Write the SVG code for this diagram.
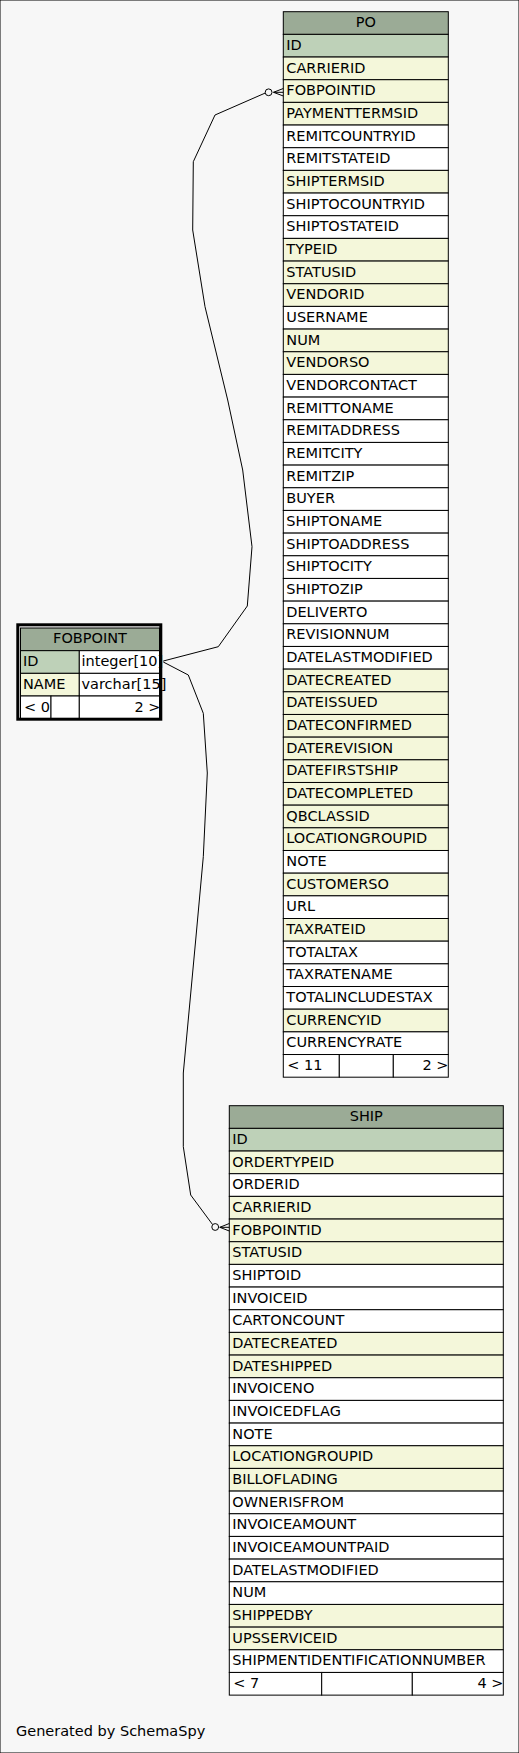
<svg xmlns="http://www.w3.org/2000/svg" width="519" height="1753" viewBox="0 0 519 1753">
<style>
text{font-family:"DejaVu Sans","Liberation Sans",sans-serif;font-size:14.5px;fill:#000}
.c{text-anchor:middle}
.e{text-anchor:end}
rect{stroke:#000;stroke-width:1}
.h{fill:#9bab96}
.pk{fill:#bed1b8}
.fk{fill:#f4f7da}
.w{fill:#ffffff}
.edge{fill:none;stroke:#000;stroke-width:1}
.dot{fill:#f7f7f7;stroke:#000;stroke-width:1}
.frame{fill:none;stroke:#000;stroke-width:3}
</style>
<rect x="0" y="0" width="519" height="1753" fill="#f7f7f7" stroke="none"/>

<g id="PO">
<rect class="h" x="283.3" y="11.70" width="165" height="22.67"/><text class="c" x="365.8" y="27">PO</text>
<rect class="pk" x="283.3" y="34.37" width="165" height="22.67"/><text x="286.3" y="49.87">ID</text>
<rect class="fk" x="283.3" y="57.04" width="165" height="22.67"/><text x="286.3" y="72.54">CARRIERID</text>
<rect class="fk" x="283.3" y="79.71" width="165" height="22.67"/><text x="286.3" y="95.21">FOBPOINTID</text>
<rect class="fk" x="283.3" y="102.38" width="165" height="22.67"/><text x="286.3" y="117.88">PAYMENTTERMSID</text>
<rect class="w" x="283.3" y="125.05" width="165" height="22.67"/><text x="286.3" y="140.55">REMITCOUNTRYID</text>
<rect class="w" x="283.3" y="147.72" width="165" height="22.67"/><text x="286.3" y="163.22">REMITSTATEID</text>
<rect class="fk" x="283.3" y="170.39" width="165" height="22.67"/><text x="286.3" y="185.89">SHIPTERMSID</text>
<rect class="w" x="283.3" y="193.06" width="165" height="22.67"/><text x="286.3" y="208.56">SHIPTOCOUNTRYID</text>
<rect class="w" x="283.3" y="215.73" width="165" height="22.67"/><text x="286.3" y="231.23">SHIPTOSTATEID</text>
<rect class="fk" x="283.3" y="238.40" width="165" height="22.67"/><text x="286.3" y="253.90">TYPEID</text>
<rect class="fk" x="283.3" y="261.07" width="165" height="22.67"/><text x="286.3" y="276.57">STATUSID</text>
<rect class="fk" x="283.3" y="283.74" width="165" height="22.67"/><text x="286.3" y="299.24">VENDORID</text>
<rect class="w" x="283.3" y="306.41" width="165" height="22.67"/><text x="286.3" y="321.91">USERNAME</text>
<rect class="fk" x="283.3" y="329.08" width="165" height="22.67"/><text x="286.3" y="344.58">NUM</text>
<rect class="fk" x="283.3" y="351.75" width="165" height="22.67"/><text x="286.3" y="367.25">VENDORSO</text>
<rect class="w" x="283.3" y="374.42" width="165" height="22.67"/><text x="286.3" y="389.92">VENDORCONTACT</text>
<rect class="w" x="283.3" y="397.09" width="165" height="22.67"/><text x="286.3" y="412.59">REMITTONAME</text>
<rect class="w" x="283.3" y="419.76" width="165" height="22.67"/><text x="286.3" y="435.26">REMITADDRESS</text>
<rect class="w" x="283.3" y="442.43" width="165" height="22.67"/><text x="286.3" y="457.93">REMITCITY</text>
<rect class="w" x="283.3" y="465.10" width="165" height="22.67"/><text x="286.3" y="480.60">REMITZIP</text>
<rect class="w" x="283.3" y="487.77" width="165" height="22.67"/><text x="286.3" y="503.27">BUYER</text>
<rect class="w" x="283.3" y="510.44" width="165" height="22.67"/><text x="286.3" y="525.94">SHIPTONAME</text>
<rect class="w" x="283.3" y="533.11" width="165" height="22.67"/><text x="286.3" y="548.61">SHIPTOADDRESS</text>
<rect class="w" x="283.3" y="555.78" width="165" height="22.67"/><text x="286.3" y="571.28">SHIPTOCITY</text>
<rect class="w" x="283.3" y="578.45" width="165" height="22.67"/><text x="286.3" y="593.95">SHIPTOZIP</text>
<rect class="w" x="283.3" y="601.12" width="165" height="22.67"/><text x="286.3" y="616.62">DELIVERTO</text>
<rect class="w" x="283.3" y="623.79" width="165" height="22.67"/><text x="286.3" y="639.29">REVISIONNUM</text>
<rect class="w" x="283.3" y="646.46" width="165" height="22.67"/><text x="286.3" y="661.96">DATELASTMODIFIED</text>
<rect class="fk" x="283.3" y="669.13" width="165" height="22.67"/><text x="286.3" y="684.63">DATECREATED</text>
<rect class="fk" x="283.3" y="691.80" width="165" height="22.67"/><text x="286.3" y="707.30">DATEISSUED</text>
<rect class="fk" x="283.3" y="714.47" width="165" height="22.67"/><text x="286.3" y="729.97">DATECONFIRMED</text>
<rect class="fk" x="283.3" y="737.14" width="165" height="22.67"/><text x="286.3" y="752.64">DATEREVISION</text>
<rect class="fk" x="283.3" y="759.81" width="165" height="22.67"/><text x="286.3" y="775.31">DATEFIRSTSHIP</text>
<rect class="fk" x="283.3" y="782.48" width="165" height="22.67"/><text x="286.3" y="797.98">DATECOMPLETED</text>
<rect class="fk" x="283.3" y="805.15" width="165" height="22.67"/><text x="286.3" y="820.65">QBCLASSID</text>
<rect class="fk" x="283.3" y="827.82" width="165" height="22.67"/><text x="286.3" y="843.32">LOCATIONGROUPID</text>
<rect class="w" x="283.3" y="850.49" width="165" height="22.67"/><text x="286.3" y="865.99">NOTE</text>
<rect class="fk" x="283.3" y="873.16" width="165" height="22.67"/><text x="286.3" y="888.66">CUSTOMERSO</text>
<rect class="w" x="283.3" y="895.83" width="165" height="22.67"/><text x="286.3" y="911.33">URL</text>
<rect class="fk" x="283.3" y="918.50" width="165" height="22.67"/><text x="286.3" y="934.00">TAXRATEID</text>
<rect class="w" x="283.3" y="941.17" width="165" height="22.67"/><text x="286.3" y="956.67">TOTALTAX</text>
<rect class="w" x="283.3" y="963.84" width="165" height="22.67"/><text x="286.3" y="979.34">TAXRATENAME</text>
<rect class="w" x="283.3" y="986.51" width="165" height="22.67"/><text x="286.3" y="1002.01">TOTALINCLUDESTAX</text>
<rect class="fk" x="283.3" y="1009.18" width="165" height="22.67"/><text x="286.3" y="1024.68">CURRENCYID</text>
<rect class="w" x="283.3" y="1031.85" width="165" height="22.67"/><text x="286.3" y="1047.35">CURRENCYRATE</text>
<rect class="w" x="283.3" y="1054.52" width="56" height="22.67"/>
<rect class="w" x="339.3" y="1054.52" width="54" height="22.67"/>
<rect class="w" x="393.3" y="1054.52" width="55" height="22.67"/>
<text x="287.3" y="1070.02">&lt; 11</text><text class="e" x="448.5" y="1070.02">2 &gt;</text>
</g>

<g id="SHIP">
<rect class="h" x="229.3" y="1105.70" width="274" height="22.67"/><text class="c" x="366.3" y="1121">SHIP</text>
<rect class="pk" x="229.3" y="1128.37" width="274" height="22.67"/><text x="232.3" y="1143.87">ID</text>
<rect class="fk" x="229.3" y="1151.04" width="274" height="22.67"/><text x="232.3" y="1166.54">ORDERTYPEID</text>
<rect class="w" x="229.3" y="1173.71" width="274" height="22.67"/><text x="232.3" y="1189.21">ORDERID</text>
<rect class="fk" x="229.3" y="1196.38" width="274" height="22.67"/><text x="232.3" y="1211.88">CARRIERID</text>
<rect class="fk" x="229.3" y="1219.05" width="274" height="22.67"/><text x="232.3" y="1234.55">FOBPOINTID</text>
<rect class="fk" x="229.3" y="1241.72" width="274" height="22.67"/><text x="232.3" y="1257.22">STATUSID</text>
<rect class="w" x="229.3" y="1264.39" width="274" height="22.67"/><text x="232.3" y="1279.89">SHIPTOID</text>
<rect class="w" x="229.3" y="1287.06" width="274" height="22.67"/><text x="232.3" y="1302.56">INVOICEID</text>
<rect class="w" x="229.3" y="1309.73" width="274" height="22.67"/><text x="232.3" y="1325.23">CARTONCOUNT</text>
<rect class="fk" x="229.3" y="1332.40" width="274" height="22.67"/><text x="232.3" y="1347.90">DATECREATED</text>
<rect class="fk" x="229.3" y="1355.07" width="274" height="22.67"/><text x="232.3" y="1370.57">DATESHIPPED</text>
<rect class="w" x="229.3" y="1377.74" width="274" height="22.67"/><text x="232.3" y="1393.24">INVOICENO</text>
<rect class="w" x="229.3" y="1400.41" width="274" height="22.67"/><text x="232.3" y="1415.91">INVOICEDFLAG</text>
<rect class="w" x="229.3" y="1423.08" width="274" height="22.67"/><text x="232.3" y="1438.58">NOTE</text>
<rect class="fk" x="229.3" y="1445.75" width="274" height="22.67"/><text x="232.3" y="1461.25">LOCATIONGROUPID</text>
<rect class="fk" x="229.3" y="1468.42" width="274" height="22.67"/><text x="232.3" y="1483.92">BILLOFLADING</text>
<rect class="w" x="229.3" y="1491.09" width="274" height="22.67"/><text x="232.3" y="1506.59">OWNERISFROM</text>
<rect class="w" x="229.3" y="1513.76" width="274" height="22.67"/><text x="232.3" y="1529.26">INVOICEAMOUNT</text>
<rect class="w" x="229.3" y="1536.43" width="274" height="22.67"/><text x="232.3" y="1551.93">INVOICEAMOUNTPAID</text>
<rect class="w" x="229.3" y="1559.10" width="274" height="22.67"/><text x="232.3" y="1574.60">DATELASTMODIFIED</text>
<rect class="w" x="229.3" y="1581.77" width="274" height="22.67"/><text x="232.3" y="1597.27">NUM</text>
<rect class="fk" x="229.3" y="1604.44" width="274" height="22.67"/><text x="232.3" y="1619.94">SHIPPEDBY</text>
<rect class="fk" x="229.3" y="1627.11" width="274" height="22.67"/><text x="232.3" y="1642.61">UPSSERVICEID</text>
<rect class="w" x="229.3" y="1649.78" width="274" height="22.67"/><text x="232.3" y="1665.28">SHIPMENTIDENTIFICATIONNUMBER</text>
<rect class="w" x="229.3" y="1672.45" width="92.4" height="22.67"/>
<rect class="w" x="321.7" y="1672.45" width="90.6" height="22.67"/>
<rect class="w" x="412.3" y="1672.45" width="91" height="22.67"/>
<text x="233.3" y="1687.95">&lt; 7</text><text class="e" x="503.5" y="1687.95">4 &gt;</text>
</g>

<g id="FOBPOINT">
<rect class="h" x="20.5" y="628" width="139" height="22.67"/><text class="c" x="90" y="643.3">FOBPOINT</text>
<rect class="pk" x="20.5" y="650.67" width="58.8" height="22.67"/><text x="23" y="666.17">ID</text>
<rect class="w" x="79.3" y="650.67" width="80.2" height="22.67"/><text x="81.5" y="666.17">integer[10]</text>
<rect class="fk" x="20.5" y="673.34" width="58.8" height="22.67"/><text x="23" y="688.84">NAME</text>
<rect class="w" x="79.3" y="673.34" width="80.2" height="22.67"/><text x="81.5" y="688.84">varchar[15]</text>
<rect class="w" x="20.5" y="696.01" width="30.5" height="22.67"/>
<rect class="w" x="51" y="696.01" width="28.3" height="22.67"/>
<rect class="w" x="79.3" y="696.01" width="80.2" height="22.67"/>
<text x="24" y="711.51">&lt; 0</text><text class="e" x="160.5" y="711.51">2 &gt;</text>
<rect class="frame" x="17.8" y="624.8" width="143" height="94.4"/>
</g>

<g id="connectors">
<polyline class="edge" points="163.3,661 218.3,646.7 247.3,606 252,546.7 242.7,470 227.7,400 205,306.7 192.7,230 193.3,161.7 215,115 265.3,93"/>
<circle class="dot" cx="268.6" cy="92.3" r="3.4"/>
<path class="edge" d="M273.5,92.3 L283.3,88.5 M273.5,92.3 L283.3,92.3 M273.5,92.3 L283.3,96"/>
<polyline class="edge" points="163.3,662 188.3,675 203.3,713.3 207.3,773 203.3,856.7 195.7,940 183.3,1073 183.3,1146.7 190.7,1195 212.6,1224.6"/>
<circle class="dot" cx="215.2" cy="1227" r="3.4"/>
<path class="edge" d="M219.8,1227.3 L229.3,1223.5 M219.8,1227.3 L229.3,1227.3 M219.8,1227.3 L229.3,1231"/>
</g>

<text x="16" y="1735.7">Generated by SchemaSpy</text>
</svg>
